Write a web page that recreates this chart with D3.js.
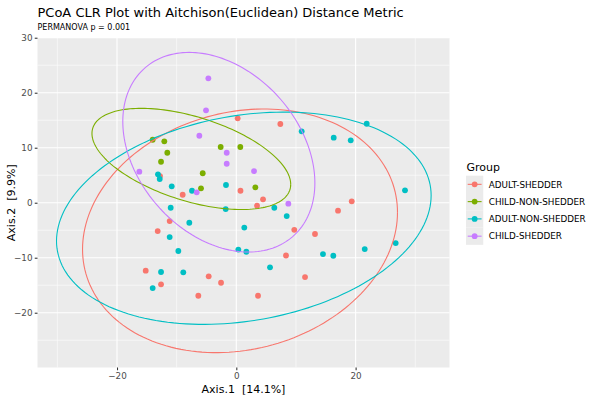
<!DOCTYPE html>
<html>
<head>
<meta charset="utf-8">
<script src="https://cdn.jsdelivr.net/npm/d3@7"></script>
<style>
  body { margin: 0; background: #fff; }
  text { font-family: "DejaVu Sans", sans-serif; }
</style>
</head>
<body>
<svg id="chart" width="600" height="400"></svg>
<script>
// groups in legend order
const groups = ['ADULT-SHEDDER', 'CHILD-NON-SHEDDER', 'ADULT-NON-SHEDDER', 'CHILD-SHEDDER'];
const colors = ['#F8766D', '#7CAE00', '#00BFC4', '#C77CFF'];

// PCoA coordinates [Axis.1, Axis.2]
const adultShedder = [
  [0.23, 15.35], [-12.79, 4.85], [-8.99, 1.45], [0.70, 2.18], [-11.17, -3.33],
  [-13.18, -5.15], [-15.19, -12.36], [-4.63, -13.38], [-2.56, -14.55], [-12.62, -14.84],
  [-6.37, -16.91], [7.38, 14.31], [4.48, 0.62], [3.47, -0.55], [19.35, 0.25],
  [17.05, -1.45], [9.72, -4.93], [13.19, -5.69], [8.33, -9.6], [11.52, -13.51],
  [3.64, -16.91]
];
const childNonShedder = [
  [-14.02, 11.45], [-12.07, 11.16], [-2.62, 10.13], [0.67, 10.13], [-11.57, 9.09],
  [-12.62, 7.45], [-5.63, 5.36], [-5.92, 2.62], [3.19, 2.8]
];
const adultNonShedder = [
  [-13.13, 5.16], [-12.84, 4.31], [-10.83, 2.98], [-7.43, 2.18], [-1.73, 3.22],
  [-11.0, -0.91], [-1.78, -1.15], [-7.88, -3.64], [-11.17, -6.24], [-9.72, -8.78],
  [0.34, -8.51], [-12.62, -12.6], [-8.89, -12.65], [-14.02, -15.51], [10.96, 12.98],
  [16.33, 11.82], [19.18, 11.35], [6.37, -0.91], [8.45, -2.42], [1.34, -4.51],
  [1.68, -8.91], [14.53, -9.33], [16.26, -9.64], [5.65, -11.75], [21.86, 14.36],
  [28.28, 2.25], [26.72, -7.33], [21.53, -8.42]
];
const childShedder = [
  [-4.69, 22.62], [-5.08, 16.8], [-6.2, 12.18], [-1.61, 9.09], [-1.61, 7.09],
  [-16.26, 5.64], [-6.64, 1.89], [2.97, 5.76], [8.72, -0.18]
];
const groupPoints = [adultShedder, childNonShedder, adultNonShedder, childShedder];

// 95% ellipses per group: [centre x, centre y, spread x, spread y, covariance]
const ellipses = [
  [0.62, -5.11, 26.4, 22.15, 88.6],
  [-7.54, 7.96, 16.66, 9.2, -77.1],
  [1.26, -2.82, 31.4, 19.3, 130],
  [-2.93, 9.18, 16.1, 18.15, -90]
];

const xMajor = [-20, 0, 20];
const xMinor = [-30, -10, 10, 30];
const yMajor = [-20, -10, 0, 10, 20, 30];
const yMinor = [-25, -15, -5, 5, 15, 25];

const panel = { left: 37.5, right: 449.5, top: 38, bottom: 367.5 };

const svg = d3.select('#chart');

const xScale = d3.scaleLinear()
  .domain([-33.33, 35.74])
  .range([panel.left, panel.right]);
const yScale = d3.scaleLinear()
  .domain([-29.96, 29.95])
  .range([panel.bottom, panel.top]);

// panel background
svg.append('rect')
  .attr('x', panel.left)
  .attr('y', panel.top)
  .attr('width', panel.right - panel.left)
  .attr('height', panel.bottom - panel.top)
  .attr('fill', '#EBEBEB');

const grid = svg.append('g');
grid.selectAll('.xminor').data(xMinor).enter().append('line')
  .attr('x1', d => xScale(d)).attr('x2', d => xScale(d))
  .attr('y1', panel.top).attr('y2', panel.bottom)
  .attr('stroke', '#fff').attr('stroke-width', 0.55);
grid.selectAll('.yminor').data(yMinor).enter().append('line')
  .attr('y1', d => yScale(d)).attr('y2', d => yScale(d))
  .attr('x1', panel.left).attr('x2', panel.right)
  .attr('stroke', '#fff').attr('stroke-width', 0.55);
grid.selectAll('.xmajor').data(xMajor).enter().append('line')
  .attr('x1', d => xScale(d)).attr('x2', d => xScale(d))
  .attr('y1', panel.top).attr('y2', panel.bottom)
  .attr('stroke', '#fff').attr('stroke-width', 1.1);
grid.selectAll('.ymajor').data(yMajor).enter().append('line')
  .attr('y1', d => yScale(d)).attr('y2', d => yScale(d))
  .attr('x1', panel.left).attr('x2', panel.right)
  .attr('stroke', '#fff').attr('stroke-width', 1.1);

// axes
const xAxis = d3.axisBottom(xScale).tickValues(xMajor).tickSize(2.75).tickPadding(2.4);
const yAxis = d3.axisLeft(yScale).tickValues(yMajor).tickSize(2.75).tickPadding(2.2);

const gx = svg.append('g')
  .attr('transform', `translate(0,${panel.bottom})`)
  .call(xAxis);
const gy = svg.append('g')
  .attr('transform', `translate(${panel.left},0)`)
  .call(yAxis);
[gx, gy].forEach(g => {
  g.select('.domain').remove();
  g.selectAll('.tick line').attr('stroke', '#333333').attr('stroke-width', 1.07);
  g.selectAll('.tick text')
    .attr('fill', '#4D4D4D')
    .style('font-size', '8.8px')
    .style('font-family', '"DejaVu Sans", sans-serif');
});

// points
groupPoints.forEach((pts, i) => {
  svg.append('g').selectAll('circle')
    .data(pts)
    .enter()
    .append('circle')
    .attr('cx', d => xScale(d[0]))
    .attr('cy', d => yScale(d[1]))
    .attr('r', 2.9)
    .attr('fill', colors[i]);
});

// ellipses
const steps = d3.range(0, 2 * Math.PI + 0.001, Math.PI / 90);
const line = d3.line()
  .x(d => xScale(d[0]))
  .y(d => yScale(d[1]));

ellipses.forEach((e, i) => {
  const [cx, cy, sx, sy, cov] = e;
  const b = cov / sx;
  const c = Math.sqrt(sy * sy - b * b);
  const path = steps.map(t => [cx + sx * Math.cos(t), cy + b * Math.cos(t) + c * Math.sin(t)]);
  svg.append('path')
    .attr('d', line(path))
    .attr('fill', 'none')
    .attr('stroke', colors[i])
    .attr('stroke-width', 1.1);
});

// titles
svg.append('text')
  .attr('x', panel.left)
  .attr('y', 16.5)
  .style('font-size', '13px')
  .attr('fill', '#000')
  .text('PCoA CLR Plot with Aitchison(Euclidean) Distance Metric');

svg.append('text')
  .attr('x', panel.left)
  .attr('y', 30)
  .style('font-size', '8px')
  .attr('fill', '#000')
  .text('PERMANOVA p = 0.001');

svg.append('text')
  .attr('x', (panel.left + panel.right) / 2)
  .attr('y', 392.5)
  .attr('text-anchor', 'middle')
  .style('font-size', '11px')
  .style('white-space', 'pre')
  .attr('fill', '#000')
  .text('Axis.1  [14.1%]');

svg.append('text')
  .attr('transform', `translate(14.5,${(panel.top + panel.bottom) / 2}) rotate(-90)`)
  .attr('text-anchor', 'middle')
  .style('font-size', '11px')
  .style('white-space', 'pre')
  .attr('fill', '#000')
  .text('Axis.2  [9.9%]');

// legend
const legend = svg.append('g').attr('transform', 'translate(466,0)');
legend.append('text')
  .attr('x', 0.5)
  .attr('y', 170.5)
  .style('font-size', '11px')
  .attr('fill', '#000')
  .text('Group');

const keySize = 17.28;
const keyTop = 175.7;
const keys = legend.selectAll('.key')
  .data(groups)
  .enter()
  .append('g')
  .attr('transform', (d, i) => `translate(0,${keyTop + i * keySize})`);

keys.append('rect')
  .attr('width', keySize)
  .attr('height', keySize)
  .attr('fill', '#EBEBEB');
keys.append('line')
  .attr('x1', 1.7).attr('x2', keySize - 1.7)
  .attr('y1', keySize / 2).attr('y2', keySize / 2)
  .attr('stroke', (d, i) => colors[i])
  .attr('stroke-width', 1.1);
keys.append('circle')
  .attr('cx', keySize / 2)
  .attr('cy', keySize / 2)
  .attr('r', 2.9)
  .attr('fill', (d, i) => colors[i]);
keys.append('text')
  .attr('x', keySize + 5.5)
  .attr('y', keySize / 2 + 3.2)
  .style('font-size', '8.8px')
  .attr('fill', '#000')
  .text(d => d);
</script>
</body>
</html>
